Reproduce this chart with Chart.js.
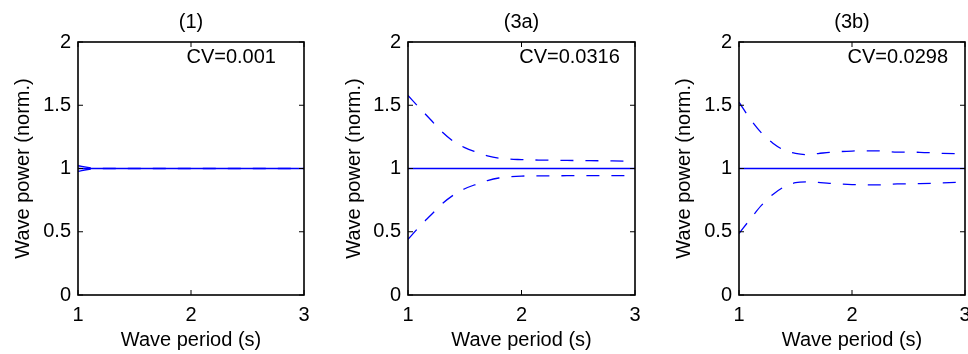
<!DOCTYPE html>
<html>
<head>
<meta charset="utf-8">
<script src="https://cdn.jsdelivr.net/npm/chart.js@4/dist/chart.umd.min.js"></script>
<style>
	body { margin: 0; background: #fff; }
	#wrap { position: relative; width: 968px; height: 354px; }
	#wrap canvas { position: absolute; left: 0; top: 0; }
</style>
</head>
<body>
<div id="wrap">
	<canvas id="c1" width="968" height="354"></canvas>
	<canvas id="c2" width="968" height="354"></canvas>
	<canvas id="c3" width="968" height="354"></canvas>
</div>
<script>
// wave period (s) sample points
const period = [1, 1.1, 1.2, 1.3, 1.4, 1.5, 1.6, 1.7, 1.8, 2.0, 2.2, 2.4, 2.6, 2.8, 3.0];

const titles = ["(1)", "(3a)", "(3b)"];
const cvLabels = ["CV=0.001", "CV=0.0316", "CV=0.0298"];

const mean1 = [1, 1, 1, 1, 1, 1, 1, 1, 1, 1, 1, 1, 1, 1, 1];
const upper1 = [1.022, 1.006, 1.002, 1.001, 1.001, 1.001, 1.001, 1.001, 1.001, 1.001, 1.001, 1.001, 1.001, 1.001, 1.001];
const lower1 = [0.978, 0.994, 0.998, 0.999, 0.999, 0.999, 0.999, 0.999, 0.999, 0.999, 0.999, 0.999, 0.999, 0.999, 0.999];

const mean3a = [1, 1, 1, 1, 1, 1, 1, 1, 1, 1, 1, 1, 1, 1, 1];
const upper3a = [1.577, 1.48, 1.385, 1.29, 1.215, 1.165, 1.13, 1.10, 1.082, 1.07, 1.066, 1.064, 1.062, 1.06, 1.058];
const lower3a = [0.44, 0.54, 0.63, 0.72, 0.79, 0.84, 0.875, 0.905, 0.925, 0.94, 0.942, 0.943, 0.944, 0.944, 0.945];

const mean3b = [1, 1, 1, 1, 1, 1, 1, 1, 1, 1, 1, 1, 1, 1, 1];
const upper3b = [1.524, 1.39, 1.28, 1.20, 1.145, 1.12, 1.11, 1.118, 1.128, 1.138, 1.14, 1.13, 1.128, 1.12, 1.115];
const lower3b = [0.486, 0.60, 0.71, 0.795, 0.855, 0.888, 0.895, 0.89, 0.883, 0.873, 0.87, 0.878, 0.88, 0.886, 0.892];

const yTicks = [0, 0.5, 1, 1.5, 2];
const xTicks = [1, 2, 3];

const FONT = "'Liberation Sans', Arial, Helvetica, sans-serif";

const toPoints = (ys) => period.map((p, i) => ({ x: p, y: ys[i] }));

// box round the plot, inward tick marks and the CV note
const framePlugin = {
	id: "frame",
	afterDatasetsDraw(chart, args, opts) {
		const { ctx, chartArea: a, scales: { x, y } } = chart;
		ctx.save();
		ctx.strokeStyle = "#000";
		ctx.lineWidth = 1;
		ctx.beginPath();
		xTicks.forEach(v => {
			const px = x.getPixelForValue(v);
			ctx.moveTo(px, a.bottom); ctx.lineTo(px, a.bottom - 5);
			ctx.moveTo(px, a.top); ctx.lineTo(px, a.top + 5);
		});
		yTicks.forEach(v => {
			const py = y.getPixelForValue(v);
			ctx.moveTo(a.left, py); ctx.lineTo(a.left + 5, py);
			ctx.moveTo(a.right, py); ctx.lineTo(a.right - 5, py);
		});
		ctx.stroke();
		ctx.lineWidth = 1.6;
		ctx.strokeRect(a.left, a.top, a.right - a.left, a.bottom - a.top);

		ctx.fillStyle = "#000";
		ctx.font = "20px " + FONT;
		ctx.textAlign = "left";
		ctx.textBaseline = "middle";
		ctx.fillText(opts.text, x.getPixelForValue(opts.at[0]), y.getPixelForValue(opts.at[1]));
		ctx.restore();
	},
};

function makeChart(id, idx, mean, upper, lower, pad, yWidth, cvAt) {
	const blue = "#0000ff";
	const dashed = {
		borderColor: blue,
		borderWidth: 1.3,
		borderDash: [13, 12],
		pointRadius: 0,
		showLine: true,
		fill: false,
		cubicInterpolationMode: "monotone",
	};
	const textFont = { family: FONT, size: 20, weight: "normal" };
	return new Chart(document.getElementById(id).getContext("2d"), {
		type: "scatter",
		data: {
			datasets: [
				{ label: "mean", data: toPoints(mean), borderColor: blue, borderWidth: 1.4, pointRadius: 0, showLine: true, fill: false },
				Object.assign({ label: "upper", data: toPoints(upper) }, dashed),
				Object.assign({ label: "lower", data: toPoints(lower) }, dashed),
			],
		},
		options: {
			responsive: false,
			animation: false,
			events: [],
			layout: { padding: { left: pad[0], right: pad[1], top: 0, bottom: 0 } },
			plugins: {
				legend: { display: false },
				tooltip: { enabled: false },
				title: { display: false },
				frame: { text: cvLabels[idx], at: cvAt },
			},
			scales: {
				x: {
					type: "linear",
					min: 1,
					max: 3,
					afterBuildTicks: (s) => { s.ticks = xTicks.map(v => ({ value: v })); },
					afterFit: (s) => { s.height = 59; s.paddingLeft = 0; s.paddingRight = 0; },
					grid: { display: false, drawTicks: false },
					border: { display: false },
					ticks: {
						color: "#000",
						padding: 8,
						maxRotation: 0,
						font: textFont,
						callback: (v) => String(v),
					},
					title: {
						display: true,
						text: "Wave period (s)",
						color: "#000",
						font: textFont,
						padding: { top: 0, bottom: 2 },
					},
				},
				// top axis only carries the panel title, centred over the plot
				top: {
					type: "linear",
					position: "top",
					min: 1,
					max: 3,
					afterFit: (s) => { s.height = 42; s.paddingLeft = 0; s.paddingRight = 0; },
					grid: { display: false, drawTicks: false },
					border: { display: false },
					ticks: { display: false },
					title: {
						display: true,
						text: titles[idx],
						color: "#000",
						font: textFont,
						padding: { top: 10, bottom: 0 },
					},
				},
				y: {
					type: "linear",
					min: 0,
					max: 2,
					afterBuildTicks: (s) => { s.ticks = yTicks.map(v => ({ value: v })); },
					afterFit: (s) => { s.width = yWidth; s.paddingTop = 0; s.paddingBottom = 0; },
					grid: { display: false, drawTicks: false },
					border: { display: false },
					ticks: {
						color: "#000",
						padding: 7,
						font: textFont,
						callback: (v) => String(v),
					},
					title: {
						display: true,
						text: "Wave power (norm.)",
						color: "#000",
						font: textFont,
						padding: { top: 0, bottom: 0 },
					},
				},
			},
		},
		plugins: [framePlugin],
	});
}

window.onload = () => {
	makeChart("c1", 0, mean1, upper1, lower1, [11, 664], 67, [1.96, 1.88]);
	makeChart("c2", 1, mean3a, upper3a, lower3a, [342, 333], 66, [1.98, 1.88]);
	makeChart("c3", 2, mean3b, upper3b, lower3b, [672, 3], 67, [1.96, 1.88]);
};
</script>
</body>
</html>
